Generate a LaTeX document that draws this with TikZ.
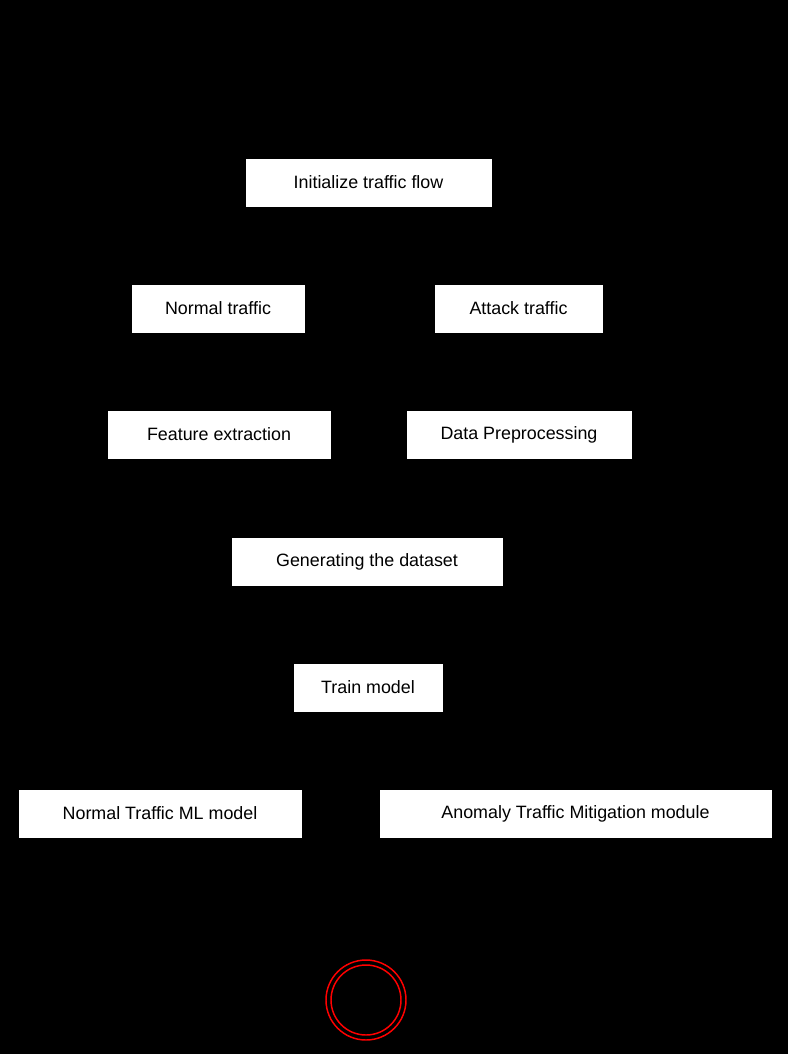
\documentclass[tikz,border=0pt]{standalone}
\usepackage{fontspec}
\setmainfont{Liberation Sans}
\usetikzlibrary{arrows.meta,positioning}

\begin{document}
\begin{tikzpicture}[x=0.75pt,y=-0.75pt,
  actbox/.style={draw=white,fill=white,minimum height=35.25pt,inner sep=0pt,
    font=\fontsize{13.4}{16}\selectfont,text=black},
  actarr/.style={-{Stealth},black,thick,shorten <=2pt,shorten >=1.5pt}
]
  % background
  \fill[black] (0,0) rectangle (788,1054);
  \useasboundingbox (0,0) rectangle (788,1054);
  % activities
  \node[actbox,minimum width=183.75pt] (init) at (368.5,182.5) {Initialize traffic flow};
  \node[actbox,minimum width=129pt] (normal) at (218,308.5) {Normal traffic};
  \node[actbox,minimum width=125.25pt] (attack) at (518.5,308.5) {Attack traffic};
  \node[actbox,minimum width=166.5pt] (feat) at (219,434.5) {Feature extraction};
  \node[actbox,minimum width=168pt] (prep) at (519,434.5) {Data Preprocessing};
  \node[actbox,minimum width=202.5pt] (gen) at (367,561.5) {Generating the dataset};
  \node[actbox,minimum width=111pt] (train) at (368,687.5) {Train model};
  \node[actbox,minimum width=211.5pt] (mlmodel) at (160,813.5) {Normal Traffic ML model};
  \node[actbox,minimum width=293.25pt] (mitig) at (575.5,813.5) {Anomaly Traffic Mitigation module};
  % final node
  \node[circle,draw=red,line width=1.1pt,minimum size=60pt,inner sep=0pt] (final) at (366,1000) {};
  \node[circle,draw=red,line width=1.1pt,minimum size=52.5pt,inner sep=0pt] (finalin) at (366,1000) {};
  % flow
  \draw[actarr] (init) -- (normal);
  \draw[actarr] (init) -- (attack);
  \draw[actarr] (normal) -- (feat);
  \draw[actarr] (attack) -- (prep);
  \draw[actarr] (feat) -- (gen);
  \draw[actarr] (prep) -- (gen);
  \draw[actarr] (gen) -- (train);
  \draw[actarr] (train) -- (mlmodel);
  \draw[actarr] (train) -- (mitig);
  \draw[actarr] (mlmodel) -- (final);
  \draw[actarr] (mitig) -- (final);
\end{tikzpicture}
\end{document}
